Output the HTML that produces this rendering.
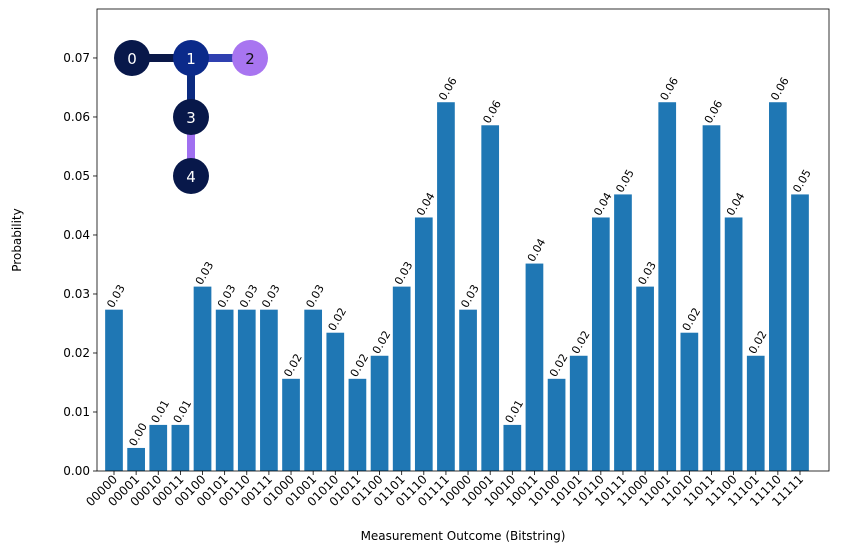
<!DOCTYPE html>
<html><head><meta charset="utf-8"><style>
html,body{margin:0;padding:0;background:#fff;}
svg{display:block;font-family:"DejaVu Sans","Liberation Sans",sans-serif;}
</style></head><body>
<svg id="chart" width="855" height="552" viewBox="0 0 855 552"></svg>
<script>
const categories = ["00000","00001","00010","00011","00100","00101","00110","00111","01000","01001","01010","01011","01100","01101","01110","01111","10000","10001","10010","10011","10100","10101","10110","10111","11000","11001","11010","11011","11100","11101","11110","11111"];
const counts = [7,1,2,2,8,7,7,7,4,7,6,4,5,8,11,16,7,15,2,9,4,5,11,12,8,16,6,15,11,5,16,12];
const probabilities = counts.map(c => c/256);
const yTicks = [0,0.01,0.02,0.03,0.04,0.05,0.06,0.07];
const yTickLabels = ["0.00","0.01","0.02","0.03","0.04","0.05","0.06","0.07"];

const NS="http://www.w3.org/2000/svg";
const svg=document.getElementById('chart');
const L=97,R=829,T=9,B=471,yMax=0.0783;
const y=v=>B-(v/yMax)*(B-T);
const n=categories.length;
const x0=114,x1=800;
const step=(x1-x0)/(n-1);
const x=i=>x0+step*i;
const bw=step*0.8;
function mk(tag,attrs,parent){const e=document.createElementNS(NS,tag);for(const k in attrs)e.setAttribute(k,attrs[k]);(parent||svg).appendChild(e);return e;}

const bars=mk('g',{});


probabilities.forEach((p,i)=>{
  const r=mk('rect',{x:x(i)-bw/2,y:y(p),width:bw,height:B-y(p),fill:'#1f77b4'},bars);
  
  
  const tx=x(i)-1, ty=y(p)-1;
  const t=mk('text',{x:tx,y:ty,'font-size':11,fill:'#000',transform:`rotate(-60 ${tx} ${ty})`},bars);
  t.textContent=p.toFixed(2);
  
  
  const xl=mk('text',{x:x(i)+4,y:B+9,'font-size':12,'text-anchor':'end',fill:'#000',transform:`rotate(-45 ${x(i)+4} ${B+9})`},svg);
  xl.textContent=categories[i];
  
  
  mk('line',{x1:x(i),x2:x(i),y1:B,y2:B+4,stroke:'#000','stroke-width':0.8});
});
yTicks.forEach((v,i)=>{
  mk('line',{x1:L-4,x2:L,y1:y(v),y2:y(v),stroke:'#000','stroke-width':0.8});
  const t=mk('text',{x:L-7,y:y(v)+4,'font-size':12,'text-anchor':'end'});
  t.textContent=yTickLabels[i];
  
  
});
const frame=mk('rect',{x:L,y:T,width:R-L,height:B-T,fill:'none',stroke:'#000','stroke-width':0.8});


const yt=mk('text',{x:21,y:240,'font-size':12,'text-anchor':'middle',transform:'rotate(-90 21 240)'});
yt.textContent='Probability';


const xt=mk('text',{x:463,y:540,'font-size':12,'text-anchor':'middle'});
xt.textContent='Measurement Outcome (Bitstring)';



// inset coupling graph
const g=mk('g',{});


const edges=[[132,58,191,58,'#0a1848'],[191,58,250,58,'#2f40b0'],[191,58,191,117,'#0b2a80'],[191,117,191,176,'#a070f0']];
edges.forEach(e=>mk('line',{x1:e[0],y1:e[1],x2:e[2],y2:e[3],stroke:e[4],'stroke-width':8},g));
const nodes=[[132,58,'0','#08184a','#fff'],[191,58,'1','#0b2a8a','#fff'],[250,58,'2','#a875f0','#111'],[191,117,'3','#08184a','#fff'],[191,176,'4','#08184a','#fff']];
nodes.forEach(nd=>{
  const c=mk('circle',{cx:nd[0],cy:nd[1],r:18,fill:nd[3]},g);
  
  
  const t=mk('text',{x:nd[0],y:nd[1]+6,'font-size':15,'text-anchor':'middle',fill:nd[4]},g);
  t.textContent=nd[2];
});
</script>
</body></html>
